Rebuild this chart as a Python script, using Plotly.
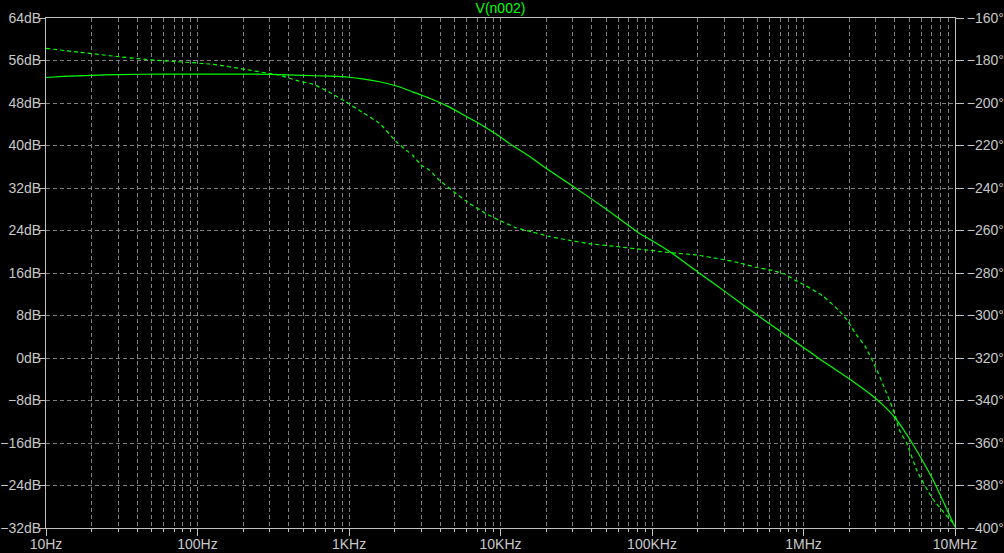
import plotly.graph_objects as go

# ---- data ----
mag_freq = [10, 13, 20, 30, 60, 100, 200, 300, 500, 745, 1000, 1230, 1590, 2060, 2630,
            3400, 4400, 5600, 7270, 9400, 12000, 15500, 20000, 31600, 50000, 82400, 96000,
            133000, 200000, 307000, 500000, 888000, 1330000, 2000000, 2850000, 3480000,
            4060000, 5210000, 7060000, 10000000]
mag_db = [52.8, 53.0, 53.2, 53.35, 53.45, 53.45, 53.45, 53.4, 53.2, 53.05, 52.85, 52.55,
          52.0, 51.2, 50.1, 48.9, 47.5, 45.9, 44.1, 42.1, 40.0, 38.0, 35.7, 31.9, 28.0,
          23.5, 22.4, 19.9, 16.2, 12.4, 8.0, 3.0, -0.5, -3.9, -7.1, -9.3, -11.4, -16.0,
          -22.6, -31.8]

ph_freq = [10, 16.5, 27.7, 45.6, 75, 126, 208, 295, 344, 466, 576, 734, 951, 1230, 1590,
           2060, 2390, 2630, 3000, 3400, 3960, 5090, 6050, 8035, 9840, 12700, 16200, 21000,
           27000, 38500, 57800, 82400, 136000, 195000, 277000, 376000, 485000, 623000,
           763000, 888000, 1030000, 1330000, 1710000, 1950000, 2210000, 2570000, 2990000,
           3480000, 3850000, 4060000, 4270000, 4830000, 5620000, 7060000, 8650000, 10000000]
ph_deg = [-174.3, -176.1, -177.9, -179.5, -180.6, -181.8, -184.2, -186.1, -186.8, -189.7,
          -191.1, -194.7, -199.4, -204.5, -209.6, -218.3, -222.2, -224.6, -229.3, -231.6,
          -236.4, -242.6, -246.6, -252.1, -255.2, -258.7, -260.7, -262.8, -264.3, -266.2,
          -267.5, -268.8, -270.5, -271.5, -273.3, -275.2, -277.3, -278.8, -280.7, -283.5,
          -285.9, -290.6, -297.6, -302.4, -308.6, -314.9, -324.3, -335.3, -343.1, -347.8,
          -353.5, -360.5, -373.2, -385.8, -393.6, -398.7]

x_tickvals = [10, 100, 1000, 10000, 100000, 1000000, 10000000]
x_ticktext = ["10Hz", "100Hz", "1KHz", "10KHz", "100KHz", "1MHz", "10MHz"]
title_text = "V(n002)"

GREEN = "#00ff00"
FRAME = "#c0c0c0"
GRID = "#808080"
TXT = "#c8c8c8"
FONT = "Liberation Sans"

fig = go.Figure()
fig.add_trace(go.Scatter(x=mag_freq, y=mag_db, mode="lines",
                         line=dict(color=GREEN, width=1.2, shape="spline", smoothing=0.5),
                         showlegend=False, yaxis="y"))
fig.add_trace(go.Scatter(x=ph_freq, y=ph_deg, mode="lines",
                         line=dict(color=GREEN, width=1.2, dash="4px,3px", shape="spline", smoothing=0.5),
                         showlegend=False, yaxis="y2"))

fig.update_layout(
    width=1004, height=553,
    paper_bgcolor="black", plot_bgcolor="black",
    margin=dict(l=46, r=49, t=18, b=25, autoexpand=False),
    font=dict(family=FONT, size=14, color=TXT),
    title=dict(text=title_text, x=0.4985, xanchor="center", y=1 - 8 / 553, yanchor="middle",
               font=dict(family=FONT, size=14, color=GREEN)),
    xaxis=dict(type="log", range=[1, 7], tickmode="array", tickvals=x_tickvals,
               ticktext=x_ticktext, ticks="outside", ticklen=7, tickcolor=FRAME,
               ticklabelstandoff=-4,
               showline=True, linecolor=FRAME, linewidth=1, mirror=True,
               showgrid=True, gridcolor=GRID, griddash="4px,3px", gridwidth=1,
               zeroline=False, automargin=False,
               minor=dict(dtick="D1", ticks="outside", ticklen=3, tickcolor=FRAME,
                          showgrid=True, gridcolor=GRID, griddash="4px,3px", gridwidth=1),
               tickfont=dict(family=FONT, size=14, color=TXT)),
    yaxis=dict(range=[-32, 64], dtick=8, tick0=0, ticksuffix="dB", ticks="outside",
               ticklen=6, tickcolor=FRAME, showline=True, linecolor=FRAME, linewidth=1,
               ticklabelstandoff=-5,
               mirror=True, showgrid=True, gridcolor=GRID, griddash="4px,3px",
               zeroline=False, automargin=False,
               tickfont=dict(family=FONT, size=14, color=TXT)),
    yaxis2=dict(range=[-400, -160], dtick=20, tick0=0, ticksuffix="°", overlaying="y",
                side="right", ticks="outside", ticklen=8, tickcolor=FRAME,
                showline=True, linecolor=FRAME, linewidth=1, showgrid=False,
                zeroline=False, automargin=False,
                tickfont=dict(family=FONT, size=14, color=TXT)),
)

fig.write_html("out.html", config={"displayModeBar": False},
               post_script="document.body.style.margin='0';document.body.style.background='black';")
